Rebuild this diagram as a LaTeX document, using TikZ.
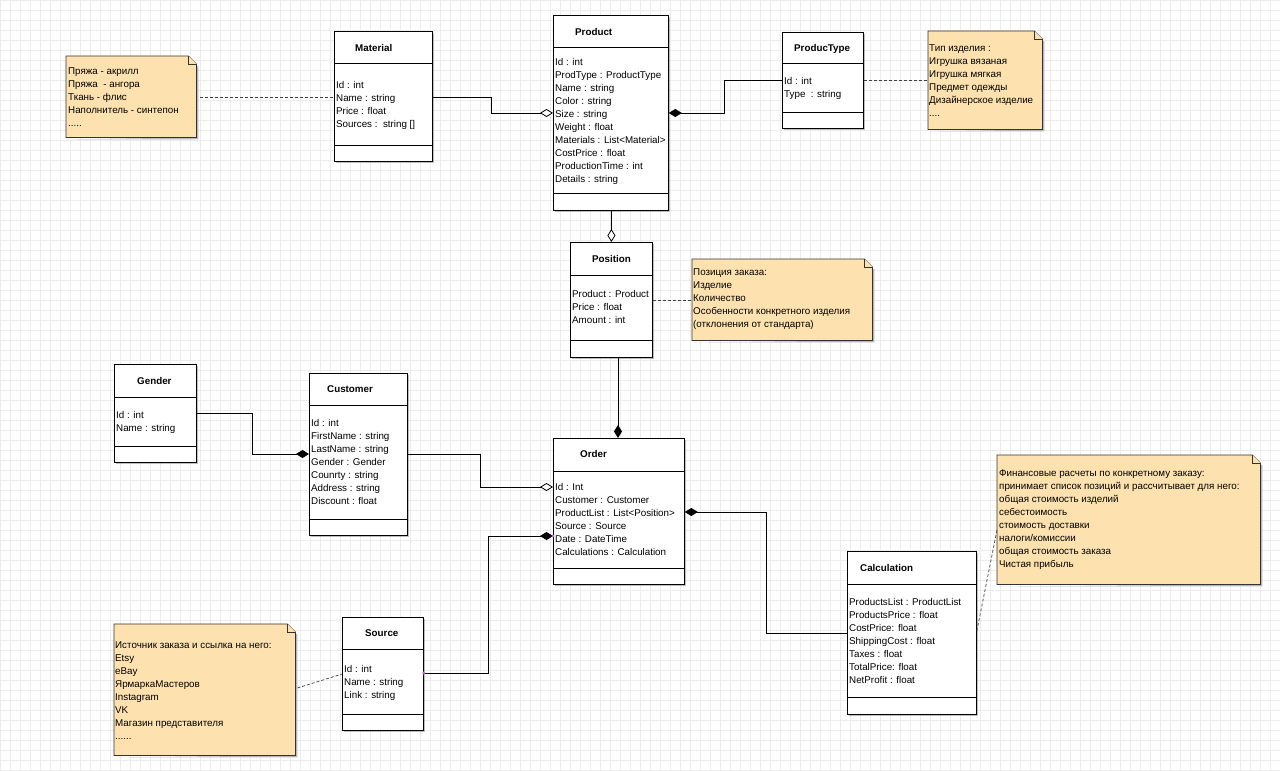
\documentclass[tikz,border=0pt]{standalone}
\usepackage{fontspec}
\setmainfont{Liberation Sans}
\usetikzlibrary{arrows.meta,calc,shadows}
\definecolor{notefill}{RGB}{253,226,176}
\definecolor{gridc}{RGB}{236,236,236}
\definecolor{pinkdot}{RGB}{200,100,200}
\newcommand{\drawnote}[1]{%
  \fill[black!28] ($(#1.south west)+(2,2)$) -- ($(#1.south east)+(2,2)$) -- ($(#1.north east)+(2,10)$) -- ($(#1.north east)+(0,10)$) -- (#1.south east) -- cycle;
  \filldraw[notepath] (#1.south west) -- (#1.north west) -- ($(#1.north east)+(-8,0)$) -- ($(#1.north east)+(0,8)$) -- (#1.south east) -- cycle;
  \draw[notepath] ($(#1.north east)+(-8,0)$) -- ($(#1.north east)+(-8,8)$) -- ($(#1.north east)+(0,8)$);
}
\tikzset{
  cls/.style={draw=black, line width=0.8pt, fill=white, anchor=north west, inner sep=0pt,
    drop shadow={shadow xshift=2pt, shadow yshift=-2pt, fill=black, opacity=0.25}},
  notebox/.style={anchor=north west, inner sep=0pt},
  notepath/.style={draw=black!80, fill=notefill, line width=0.7pt},
  sepline/.style={draw=black, line width=0.8pt},
  ttl/.style={anchor=base west, inner sep=0pt, font=\fontsize{9.8}{13}\selectfont\bfseries},
  attr/.style={anchor=north west, inner sep=0pt, align=left, font=\fontsize{9.8}{13}\selectfont},
  conn/.style={draw=black, line width=0.9pt},
  odia/.style={-{Diamond[length=13pt,width=8pt,fill=white,line width=0.8pt]}},
  fdia/.style={-{Diamond[length=13pt,width=8pt,line width=0.8pt]}},
  dashline/.style={draw=black!75, line width=0.7pt, dash pattern=on 3pt off 2pt},
}
\begin{document}
\begin{tikzpicture}[x=1pt,y=-1pt]
\useasboundingbox (0,0) rectangle (1280,771);
\fill[white] (0,0) rectangle (1280,771);
\foreach \i in {0,10,...,1280} \draw[gridc, line width=0.5pt] (\i,0) -- (\i,771);
\foreach \j in {0,10,...,770} \draw[gridc, line width=0.5pt] (0,\j) -- (1280,\j);

% ---------- notes ----------
\node[notebox, minimum width=130pt, minimum height=81pt] (nmat) at (66,56) {};
\node[notebox, minimum width=114pt, minimum height=98pt] (nptype) at (928,31) {};
\node[notebox, minimum width=180pt, minimum height=81pt] (npos) at (692,259) {};
\node[notebox, minimum width=263pt, minimum height=129pt] (ncalc) at (997,455) {};
\node[notebox, minimum width=181pt, minimum height=131pt] (nsrc) at (114,624) {};
\drawnote{nmat}
\drawnote{nptype}
\drawnote{npos}
\drawnote{ncalc}
\drawnote{nsrc}
\node[attr] (nmatT) at (68,65.4) {\strut Пряжа - акрилл\\Пряжа\ \ - ангора\\Ткань - флис\\Наполнитель - синтепон\\.....};
\node[attr] (nptypeT) at (929,42.4) {\strut Тип изделия :\\Игрушка вязаная\\Игрушка мягкая\\Предмет одежды\\Дизайнерское изделие\\....};
\node[attr] (nposT) at (693,266.4) {\strut Позиция заказа:\\Изделие\\Количество\\Особенности конкретного изделия\\(отклонения от стандарта)};
\node[attr] (ncalcT) at (999,467) {\strut Финансовые расчеты по конкретному заказу:\\принимает список позиций и рассчитывает для него:\\общая стоимость изделий\\себестоимость\\стоимость доставки\\налоги/комиссии\\общая стоимость заказа\\Чистая прибыль};
\node[attr] (nsrcT) at (115,639.4) {\strut Источник заказа и ссылка на него:\\Etsy\\eBay\\ЯрмаркаМастеров\\Instagram\\VK\\Магазин представителя\\......};

% ---------- classes ----------
\node[cls, minimum width=98pt, minimum height=130pt] (mat) at (334,31) {};
\draw[sepline] (mat.west |- 0,63) -- (mat.east |- 0,63);
\draw[sepline] (mat.west |- 0,145) -- (mat.east |- 0,145);
\node[ttl] (matT) at (355,51.5) {Material};
\node[attr] (matA) at (336,79.4) {\strut Id : int\\Name : string\\Price : float\\Sources :\ \ string []};

\node[cls, minimum width=115pt, minimum height=195pt] (prod) at (553,15) {};
\draw[sepline] (prod.west |- 0,47) -- (prod.east |- 0,47);
\draw[sepline] (prod.west |- 0,193) -- (prod.east |- 0,193);
\node[ttl] (prodT) at (575,35.5) {Product};
\node[attr] (prodA) at (555,56.4) {\strut Id : int\\ProdType : ProductType\\Name : string\\Color : string\\Size : string\\Weight : float\\Materials : List<Material>\\CostPrice : float\\ProductionTime : int\\Details : string};

\node[cls, minimum width=81pt, minimum height=96pt] (ptype) at (782,32) {};
\draw[sepline] (ptype.west |- 0,63) -- (ptype.east |- 0,63);
\draw[sepline] (ptype.west |- 0,112) -- (ptype.east |- 0,112);
\node[ttl] (ptypeT) at (794,51.5) {ProducType};
\node[attr] (ptypeA) at (784,75.4) {\strut Id : int\\Type\ \ : string};

\node[cls, minimum width=82pt, minimum height=115pt] (pos) at (570,242) {};
\draw[sepline] (pos.west |- 0,275) -- (pos.east |- 0,275);
\draw[sepline] (pos.west |- 0,340) -- (pos.east |- 0,340);
\node[ttl] (posT) at (592,262.5) {Position};
\node[attr] (posA) at (572,288.4) {\strut Product : Product\\Price : float\\Amount : int};

\node[cls, minimum width=82pt, minimum height=98pt] (gen) at (114,364) {};
\draw[sepline] (gen.west |- 0,397) -- (gen.east |- 0,397);
\draw[sepline] (gen.west |- 0,446) -- (gen.east |- 0,446);
\node[ttl] (genT) at (137,384.5) {Gender};
\node[attr] (genA) at (116,409.4) {\strut Id : int\\Name : string};

\node[cls, minimum width=98pt, minimum height=162pt] (cust) at (309,373) {};
\draw[sepline] (cust.west |- 0,405) -- (cust.east |- 0,405);
\draw[sepline] (cust.west |- 0,519) -- (cust.east |- 0,519);
\node[ttl] (custT) at (327,392.5) {Customer};
\node[attr] (custA) at (311,417.4) {\strut Id : int\\FirstName : string\\LastName : string\\Gender : Gender\\Counrty : string\\Address : string\\Discount : float};

\node[cls, minimum width=131pt, minimum height=146pt] (ord) at (553,438) {};
\draw[sepline] (ord.west |- 0,471) -- (ord.east |- 0,471);
\draw[sepline] (ord.west |- 0,568) -- (ord.east |- 0,568);
\node[ttl] (ordT) at (580,457.5) {Order};
\node[attr] (ordA) at (555,481.4) {\strut Id : Int\\Customer : Customer\\ProductList : List<Position>\\Source : Source\\Date : DateTime\\Calculations : Calculation};

\node[cls, minimum width=81pt, minimum height=113pt] (src) at (342,617) {};
\draw[sepline] (src.west |- 0,649) -- (src.east |- 0,649);
\draw[sepline] (src.west |- 0,714) -- (src.east |- 0,714);
\node[ttl] (srcT) at (365,636.5) {Source};
\node[attr] (srcA) at (344,663.4) {\strut Id : int\\Name : string\\Link : string};

\node[cls, minimum width=129pt, minimum height=163pt] (calc) at (847,551) {};
\draw[sepline] (calc.west |- 0,584) -- (calc.east |- 0,584);
\draw[sepline] (calc.west |- 0,697) -- (calc.east |- 0,697);
\node[ttl] (calcT) at (860,571.5) {Calculation};
\node[attr] (calcA) at (849,596.4) {\strut ProductsList : ProductList\\ProductsPrice : float\\CostPrice: float\\ShippingCost : float\\Taxes : float\\TotalPrice: float\\NetProfit : float};

% ---------- connectors ----------
\draw[dashline] ($(nmat.east |- 0,97)+(4,0)$) -- (mat.west |- 0,97);
\draw[conn, odia] (mat.east |- 0,97) -- (491,97) -- (491,113) -- (prod.west |- 0,113);
\draw[conn, fdia] (ptype.west |- 0,80) -- (724,80) -- (724,113) -- (prod.east |- 0,113);
\draw[dashline] (ptype.east |- 0,80) -- (nptype.west |- 0,80);
\draw[conn, odia] (prod.south -| pos.north) -- (pos.north);
\draw[dashline] (pos.east |- 0,300) -- (npos.west |- 0,300);
\draw[conn, fdia] (pos.south -| 618,0) -- (ord.north -| 618,0);
\draw[conn, fdia] (gen.east |- 0,413) -- (252,413) -- (252,454) -- (cust.west |- 0,454);
\draw[conn, odia] (cust.east |- 0,454) -- (480,454) -- (480,487) -- (ord.west |- 0,487);
\draw[conn, fdia] (src.east |- 0,673) -- (488,673) -- (488,536) -- (ord.west |- 0,536);
\draw[dashline] ($(nsrc.east |- 0,688)+(2,0)$) -- (src.west |- 0,674);
\draw[conn, fdia] (calc.west |- 0,633) -- (766,633) -- (766,512) -- (ord.east |- 0,512);
\draw[dashline] (calc.east |- 0,631) -- (ncalc.west |- 0,530);
\fill[pinkdot] (src.east |- 0,673) circle (1.6);
\fill[pinkdot] (ord.west |- 0,536) circle (1.6);
\end{tikzpicture}
\end{document}
